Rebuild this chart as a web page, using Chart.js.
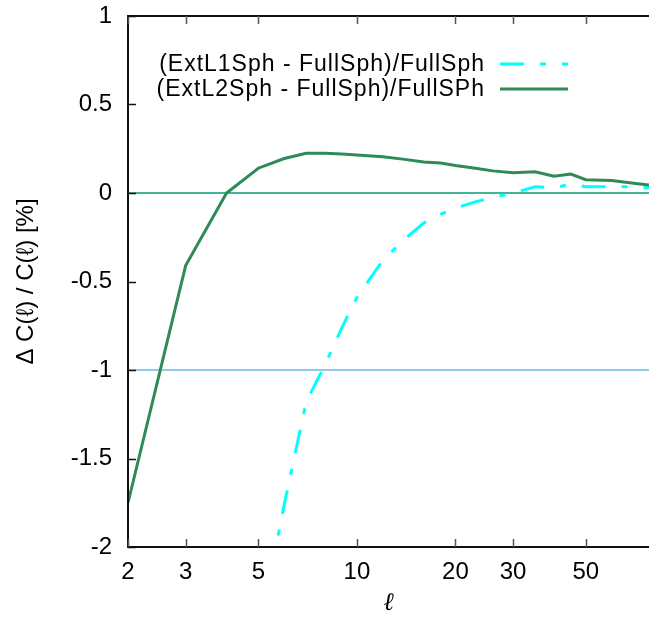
<!DOCTYPE html>
<html>
<head>
<meta charset="utf-8">
<script src="https://cdn.jsdelivr.net/npm/chart.js@4.4.1/dist/chart.umd.min.js"></script>
<style>
  html, body { margin: 0; padding: 0; background: #fff; }
  #wrap { width: 649px; height: 619px; }
</style>
</head>
<body>
<div id="wrap"><canvas id="mainChart"></canvas></div>
<script>
// multipole values and the two relative differences (in %)
const ELL    = [2, 3, 4, 5, 6, 7, 8, 9, 10, 12, 14, 16, 18, 20, 23, 26, 30, 35, 40, 45, 50, 60, 70, 78];
const EXT_L1 = [null, null, null, -2.5, -1.76, -1.18, -0.97, -0.76, -0.59, -0.38, -0.26, -0.17, -0.12, -0.085, -0.05, -0.025, 0.0, 0.035, 0.03, 0.05, 0.035, 0.035, 0.035, 0.03];
const EXT_L2 = [-1.75, -0.41, 0.0, 0.14, 0.195, 0.225, 0.225, 0.22, 0.215, 0.205, 0.19, 0.175, 0.17, 0.155, 0.14, 0.125, 0.115, 0.12, 0.095, 0.107, 0.075, 0.07, 0.055, 0.045];
const LABELS = ['(ExtL1Sph - FullSph)/FullSph', '(ExtL2Sph - FullSph)/FullSPh'];

const X_TICKS = [2, 3, 5, 10, 20, 30, 50];
const Y_TICKS = [-2, -1.5, -1, -0.5, 0, 0.5, 1];
const X_MIN = 2, X_MAX = 78;
const Y_MIN = -2, Y_MAX = 1;
const REF_LINES = [0, -1];

const CYAN = '#00ffff';
const GREEN = '#2e8b57';
const CYAN_DASH = [24, 16, 6, 16];
const FONT = '"Liberation Sans", Arial, sans-serif';

const toPts = vals => ELL.map((l, i) => ({ x: l, y: vals[i] })).filter(p => p.y != null);

// frame, inward ticks and the right-aligned key
const framePlugin = {
  id: 'frame',
  afterDatasetsDraw(chart) {
    const { ctx, chartArea: a, scales: { x, y } } = chart;
    ctx.save();
    ctx.strokeStyle = '#111';
    ctx.lineWidth = 2;
    ctx.beginPath();
    ctx.moveTo(a.right + 2, a.top);
    ctx.lineTo(a.left, a.top);
    ctx.lineTo(a.left, a.bottom);
    ctx.lineTo(a.right + 2, a.bottom);
    ctx.stroke();

    ctx.lineWidth = 1.5;
    ctx.strokeStyle = '#555';
    X_TICKS.forEach(v => {
      const px = Math.round(x.getPixelForValue(v)) + 0.5;
      ctx.beginPath();
      ctx.moveTo(px, a.bottom); ctx.lineTo(px, a.bottom - 8);
      ctx.moveTo(px, a.top); ctx.lineTo(px, a.top + 8);
      ctx.stroke();
    });
    ctx.strokeStyle = '#111';
    Y_TICKS.forEach(v => {
      const py = Math.round(y.getPixelForValue(v)) + 0.5;
      ctx.beginPath();
      ctx.moveTo(a.left, py); ctx.lineTo(a.left + 8, py);
      ctx.stroke();
    });

    // key
    ctx.font = '23px ' + FONT;
    ctx.letterSpacing = '1px';
    ctx.fillStyle = '#000';
    ctx.textAlign = 'right';
    ctx.textBaseline = 'middle';
    const rows = [
      { text: LABELS[0], y: 64, color: CYAN, dash: CYAN_DASH, w: 3 },
      { text: LABELS[1], y: 89, color: GREEN, dash: [], w: 3 },
    ];
    rows.forEach(r => {
      ctx.fillText(r.text, 485, r.y + 1);
      ctx.beginPath();
      ctx.strokeStyle = r.color;
      ctx.lineWidth = r.w;
      ctx.setLineDash(r.dash);
      ctx.moveTo(500, r.y);
      ctx.lineTo(568, r.y);
      ctx.stroke();
    });
    ctx.restore();
  }
};

const datasets = [
  {
    label: LABELS[1],
    data: toPts(EXT_L2),
    borderColor: GREEN,
    borderWidth: 3,
    order: 0,
  },
  {
    label: LABELS[0],
    data: toPts(EXT_L1),
    borderColor: CYAN,
    borderWidth: 3,
    borderDash: CYAN_DASH,
    order: 1,
  },
  {
    label: 'zero',
    data: [{ x: X_MIN, y: REF_LINES[0] }, { x: X_MAX, y: REF_LINES[0] }],
    borderColor: '#45b494',
    borderWidth: 2,
    order: 2,
  },
  {
    label: 'minus one',
    data: [{ x: X_MIN, y: REF_LINES[1] }, { x: X_MAX, y: REF_LINES[1] }],
    borderColor: '#8ccbf0',
    borderWidth: 2,
    order: 2,
  },
].map(d => ({ ...d, type: 'line', showLine: true, pointRadius: 0, tension: 0, fill: false }));

new Chart(document.getElementById('mainChart'), {
  type: 'scatter',
  data: { datasets },
  plugins: [framePlugin],
  options: {
    responsive: true,
    maintainAspectRatio: false,
    animation: false,
    layout: { padding: { top: 16, right: 0, left: 0, bottom: 0 } },
    plugins: { legend: { display: false }, tooltip: { enabled: false } },
    scales: {
      x: {
        type: 'logarithmic',
        min: X_MIN,
        max: X_MAX,
        afterBuildTicks: s => { s.ticks = X_TICKS.map(v => ({ value: v })); },
        afterFit: s => { s.height = 72; s.paddingLeft = 0; s.paddingRight = 0; },
        ticks: {
          autoSkip: false,
          maxRotation: 0,
          padding: 11,
          color: '#000',
          font: { family: FONT, size: 24 },
          callback: v => String(v),
        },
        grid: { display: false, drawTicks: false },
        border: { display: false },
        title: {
          display: true,
          text: 'ℓ',
          color: '#000',
          font: { family: '"Liberation Serif", serif', size: 25, style: 'italic' },
          padding: { top: 0, bottom: 1 },
        },
      },
      y: {
        type: 'linear',
        min: Y_MIN,
        max: Y_MAX,
        afterBuildTicks: s => { s.ticks = Y_TICKS.map(v => ({ value: v })); },
        afterFit: s => { s.width = 128; s.paddingTop = 0; s.paddingBottom = 0; },
        ticks: {
          padding: 16,
          color: '#000',
          font: { family: FONT, size: 24 },
          callback: v => String(v),
        },
        grid: { display: false, drawTicks: false },
        border: { display: false },
        title: {
          display: true,
          text: 'Δ C(ℓ) / C(ℓ) [%]',
          color: '#000',
          font: { family: FONT, size: 24 },
          padding: { top: 12, bottom: 0 },
        },
      },
    },
  },
});
</script>
</body>
</html>
